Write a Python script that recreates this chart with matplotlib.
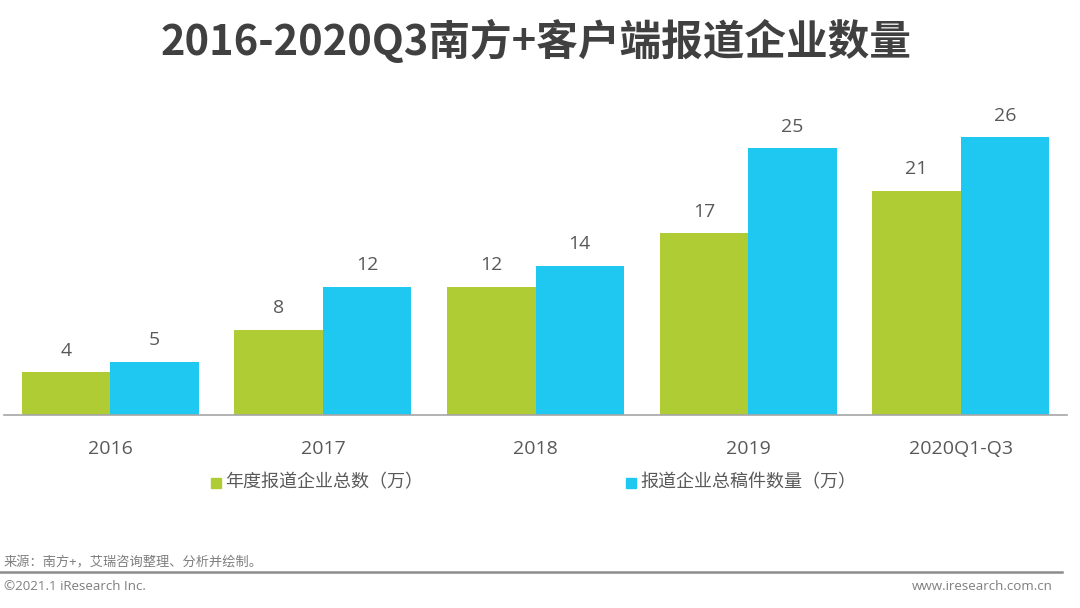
import matplotlib
matplotlib.use("Agg")
import matplotlib.pyplot as plt
import numpy as np

categories = ["2016", "2017", "2018", "2019", "2020Q1-Q3"]
enterprises = [4, 8, 12, 17, 21]
manuscripts = [5, 12, 14, 25, 26]
series_names = ["年度报道企业总数（万）", "报道企业总稿件数量（万）"]
title = "2016-2020Q3南方+客户端报道企业数量"
source = "来源：南方+，艾瑞咨询整理、分析并绘制。"
footer_left = "©2021.1 iResearch Inc."
footer_right = "www.iresearch.com.cn"

green = "#B0CC34"
blue = "#1EC8F0"
txt = "#595959"

plt.rcParams['font.family'] = ['Open Sans', 'Noto Sans CJK SC', 'DejaVu Sans']

fig = plt.figure(figsize=(10.8, 6.08), dpi=100)
ax = fig.add_axes([4/1080, 193/608, 1063/1080, 299/608])

x = np.arange(len(categories))
w = 0.416
b1 = ax.bar(x - w/2, enterprises, w, color=green, label=series_names[0])
b2 = ax.bar(x + w/2, manuscripts, w, color=blue, label=series_names[1])
for bars in (b1, b2):
    for r in bars:
        ax.annotate(f"{r.get_height():g}", (r.get_x() + r.get_width()/2, r.get_height()),
                    xytext=(0, 9), textcoords="offset points", ha="center", va="bottom",
                    fontsize=14, color=txt)

ax.set_xlim(-0.5, len(categories) - 0.5)
ax.set_ylim(0, 28)
ax.set_yticks([])
ax.set_xticks(x)
ax.set_xticklabels(categories, fontsize=14, color=txt)
ax.tick_params(axis='x', length=0, pad=18)
for s in ["top", "right", "left"]:
    ax.spines[s].set_visible(False)
ax.spines["bottom"].set_color("#A6A6A6")
ax.spines["bottom"].set_linewidth(1.2)

# legend
fig.patches.append(plt.Rectangle((211/1080, 1 - 488/608), 10/1080, 10/608,
                                 transform=fig.transFigure, color=green))
fig.text(225/1080, 1 - 482/608, series_names[0], fontsize=13, color=txt, va="center",
         family=['Noto Sans CJK SC', 'DejaVu Sans'])
fig.patches.append(plt.Rectangle((626/1080, 1 - 488/608), 10/1080, 10/608,
                                 transform=fig.transFigure, color=blue))
fig.text(640/1080, 1 - 482/608, series_names[1], fontsize=13, color=txt, va="center",
         family=['Noto Sans CJK SC', 'DejaVu Sans'])

fig.text(536/1080, 1 - 42/608, title, ha="center", va="center", fontsize=30, fontweight="bold",
         color="#404040", family=['Noto Sans CJK SC', 'DejaVu Sans'])

fig.text(4/1080, 1 - 563/608, source, fontsize=9.5, color="#7F7F7F", va="center",
         family=['Noto Sans CJK SC', 'DejaVu Sans'])
fig.add_artist(plt.Line2D([0, 1062/1080], [1 - 572/608, 1 - 572/608],
                          transform=fig.transFigure, color="#8C8C8C", lw=1.8))
fig.text(4/1080, 1 - 587/608, footer_left, fontsize=9.6, color="#7F7F7F", va="center")
fig.text(1053/1080, 1 - 587/608, footer_right, fontsize=9.6, color="#7F7F7F", va="center", ha="right")

fig.savefig("out.png", dpi=100)
